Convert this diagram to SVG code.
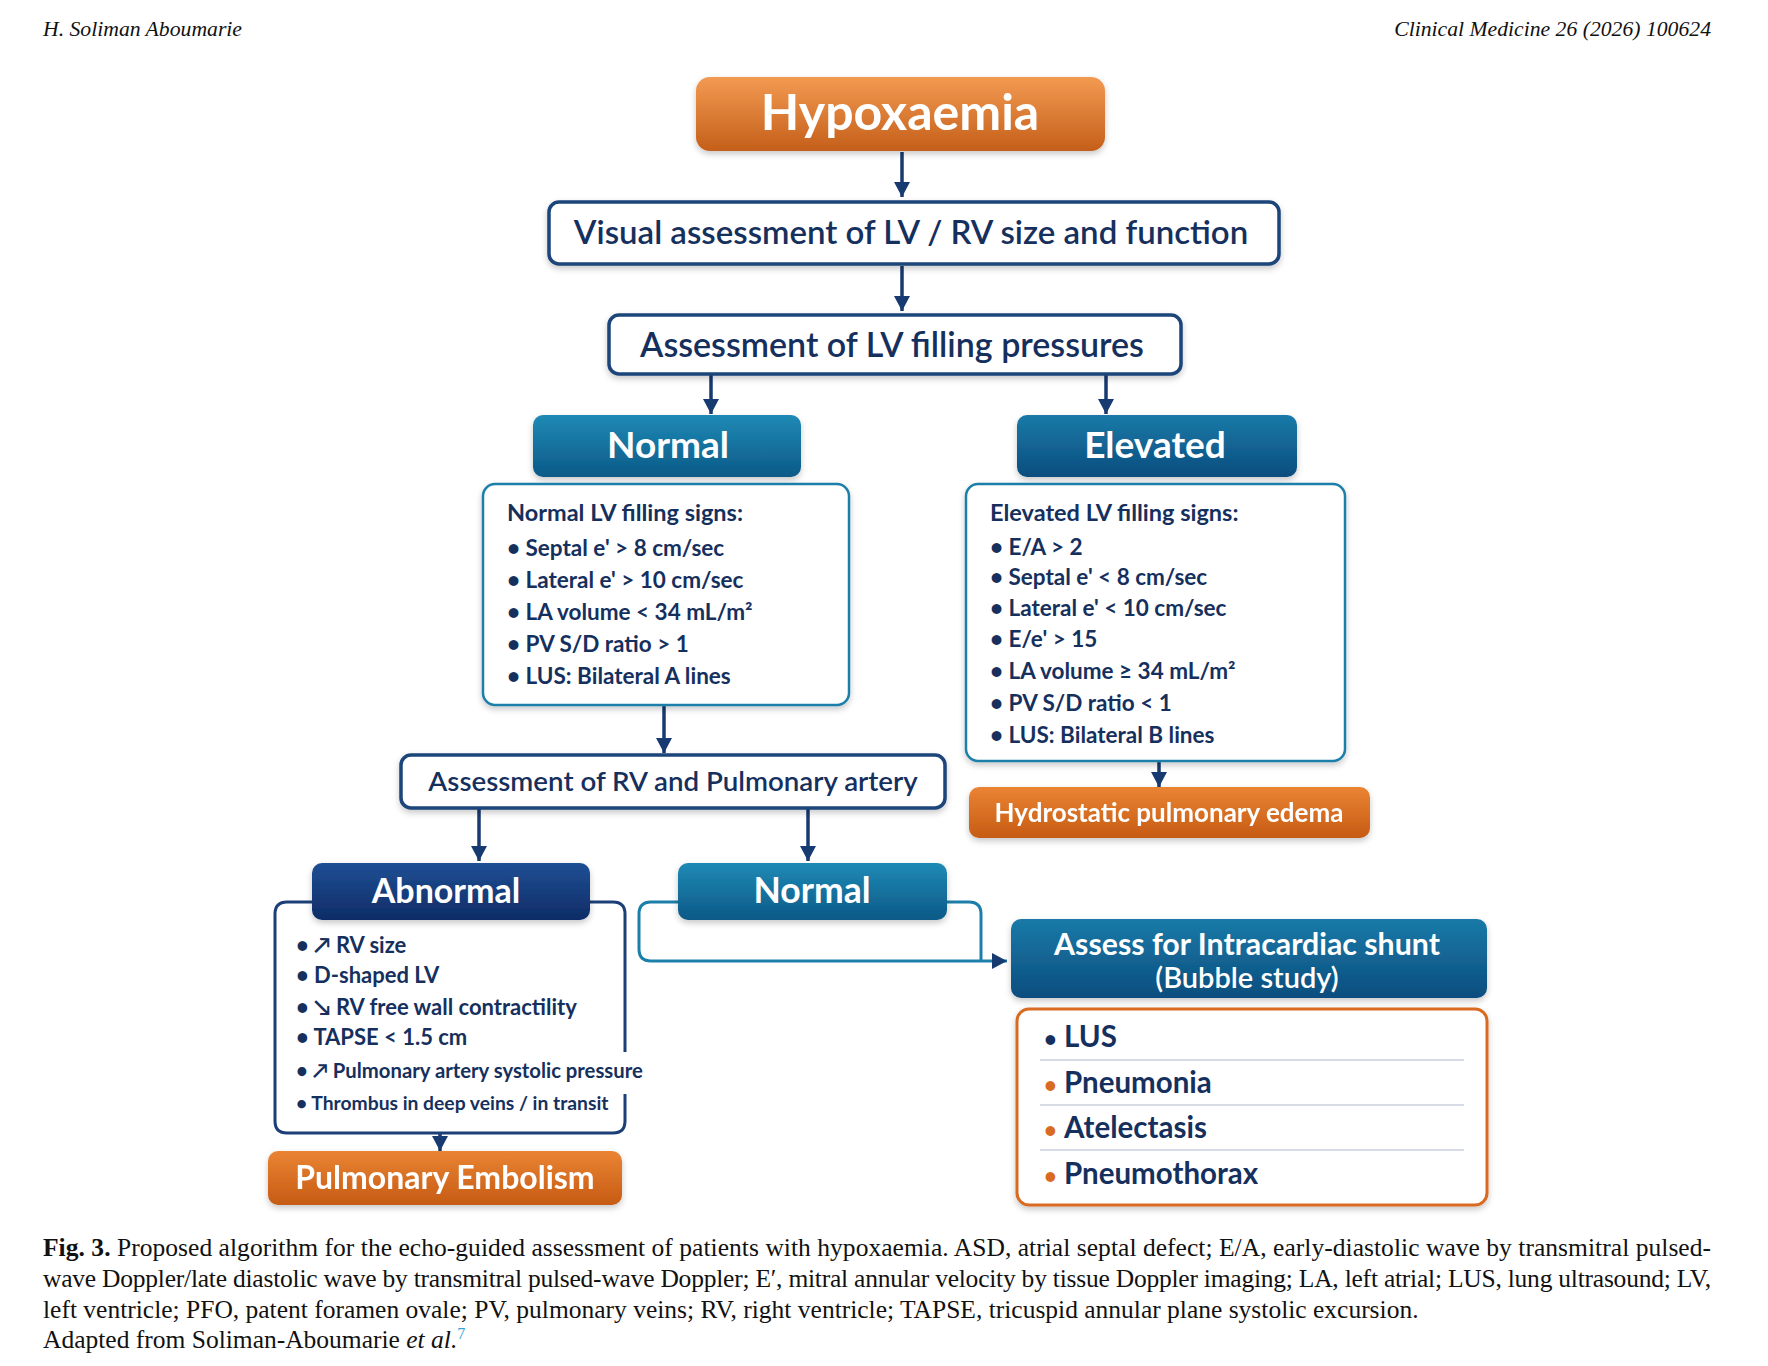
<svg xmlns="http://www.w3.org/2000/svg" width="1768" height="1366" viewBox="0 0 1768 1366">
<defs>
<linearGradient id="gOrange" x1="0" y1="0" x2="0" y2="1"><stop offset="0" stop-color="#f39a52"/><stop offset="1" stop-color="#c45f1a"/></linearGradient>
<linearGradient id="gOrange2" x1="0" y1="0" x2="0" y2="1"><stop offset="0" stop-color="#ea8433"/><stop offset="1" stop-color="#c65b14"/></linearGradient>
<linearGradient id="gTeal" x1="0" y1="0" x2="0" y2="1"><stop offset="0" stop-color="#1f8ab5"/><stop offset="1" stop-color="#0c5987"/></linearGradient>
<linearGradient id="gTeal2" x1="0" y1="0" x2="0" y2="1"><stop offset="0" stop-color="#1a7aa8"/><stop offset="1" stop-color="#0b4d7e"/></linearGradient>
<linearGradient id="gNavy" x1="0" y1="0" x2="0" y2="1"><stop offset="0" stop-color="#1f4f94"/><stop offset="1" stop-color="#0e2c66"/></linearGradient>
<filter id="sh" x="-10%" y="-10%" width="120%" height="130%"><feDropShadow dx="0" dy="3" stdDeviation="3" flood-color="#000" flood-opacity="0.22"/></filter>
<marker id="ah" markerUnits="userSpaceOnUse" markerWidth="16" markerHeight="16" refX="15" refY="8" orient="auto"><path d="M0,0 L15,8 L0,16 z" fill="#173a70"/></marker>
<style>
.hdr{font-family:"Liberation Serif",serif;font-style:italic;font-size:21.7px;fill:#111}
.cap{font-family:"Liberation Serif",serif;font-size:25.5px;fill:#111}
.wbox{fill:#fff;stroke:#1d4479;stroke-width:3.5}
.tbox{fill:#fff;stroke:#1c7fa9;stroke-width:2.5}
.obox{fill:#fff;stroke:#d96a22;stroke-width:3}
.t{font-family:Lato,"Liberation Sans",sans-serif;fill:#16305e}
.w{font-family:Lato,"Liberation Sans",sans-serif;fill:#fff;font-weight:700}
.sig{font-family:Lato,"Liberation Sans",sans-serif;fill:#16305e;font-size:22.5px;font-weight:700}
.ttl{font-size:23.5px}
.ab{font-size:22px}
.ab2{font-size:20.3px}
.ab3{font-size:19.3px}
.conn{fill:none;stroke:#173a70;stroke-width:3.5}
.br{fill:none;stroke-width:3}
.sep{stroke:#d6dbe6;stroke-width:2}
.li{font-family:Lato,"Liberation Sans",sans-serif;font-weight:700;font-size:29.5px}
</style>
</defs>
<rect width="1768" height="1366" fill="#fff"/>
<text class="hdr" x="43" y="36">H. Soliman Aboumarie</text>
<text class="hdr" x="1711" y="36" text-anchor="end">Clinical Medicine 26 (2026) 100624</text>

<g id="connectors">
<path class="conn" d="M902,152 V197" marker-end="url(#ah)"/>
<path class="conn" d="M902,266 V311" marker-end="url(#ah)"/>
<path class="conn" d="M711,375 V414" marker-end="url(#ah)"/>
<path class="conn" d="M1106,375 V414" marker-end="url(#ah)"/>
<path class="conn" d="M664,706 V753" marker-end="url(#ah)"/>
<path class="conn" d="M1159,762 V787" marker-end="url(#ah)"/>
<path class="conn" d="M479,809 V861" marker-end="url(#ah)"/>
<path class="conn" d="M808,809 V861" marker-end="url(#ah)"/>
<path class="conn" d="M440,1134 V1151" marker-end="url(#ah)"/>
<path fill="none" stroke="#1c7fa9" stroke-width="3" d="M981,961 H1007" marker-end="url(#ah)"/>
</g>

<g id="hypoxaemia" filter="url(#sh)">
<rect x="696" y="77" width="409" height="74" rx="14" fill="url(#gOrange)"/>
<text class="w" x="900" y="130" font-size="50" text-anchor="middle">Hypoxaemia</text>
</g>

<g id="visual">
<rect class="wbox" x="549" y="202" width="730" height="62" rx="10" filter="url(#sh)"/>
<text class="t" x="911" y="244" font-size="33" font-weight="600" text-anchor="middle">Visual assessment of LV / RV size and function</text>
</g>

<g id="lvfilling">
<rect class="wbox" x="609" y="315" width="572" height="59" rx="10" filter="url(#sh)"/>
<text class="t" x="892" y="357" font-size="34" font-weight="600" text-anchor="middle">Assessment of LV filling pressures</text>
</g>

<g id="normal1">
<rect x="533" y="415" width="268" height="62" rx="10" fill="url(#gTeal)" filter="url(#sh)"/>
<text class="w" x="668" y="458" font-size="37" text-anchor="middle">Normal</text>
</g>

<g id="elevated">
<rect x="1017" y="415" width="280" height="62" rx="10" fill="url(#gTeal2)" filter="url(#sh)"/>
<text class="w" x="1155" y="458" font-size="37" text-anchor="middle">Elevated</text>
</g>

<g id="normalsigns">
<rect class="tbox" x="483" y="484" width="366" height="221" rx="12" filter="url(#sh)"/>
<text class="sig ttl" x="507" y="521">Normal LV filling signs:</text>
<text class="sig" x="507" y="556">• Septal e' &gt; 8 cm/sec</text>
<text class="sig" x="507" y="588">• Lateral e' &gt; 10 cm/sec</text>
<text class="sig" x="507" y="620">• LA volume &lt; 34 mL/m²</text>
<text class="sig" x="507" y="652">• PV S/D ratio &gt; 1</text>
<text class="sig" x="507" y="684">• LUS: Bilateral A lines</text>
</g>

<g id="elevatedsigns">
<rect class="tbox" x="966" y="484" width="379" height="277" rx="12" filter="url(#sh)"/>
<text class="sig ttl" x="990" y="521">Elevated LV filling signs:</text>
<text class="sig" x="990" y="555">• E/A &gt; 2</text>
<text class="sig" x="990" y="585">• Septal e' &lt; 8 cm/sec</text>
<text class="sig" x="990" y="616">• Lateral e' &lt; 10 cm/sec</text>
<text class="sig" x="990" y="647">• E/e' &gt; 15</text>
<text class="sig" x="990" y="679">• LA volume ≥ 34 mL/m²</text>
<text class="sig" x="990" y="711">• PV S/D ratio &lt; 1</text>
<text class="sig" x="990" y="743">• LUS: Bilateral B lines</text>
</g>

<g id="hydrostatic" filter="url(#sh)">
<rect x="969" y="787" width="401" height="51" rx="10" fill="url(#gOrange2)"/>
<text class="w" x="1169" y="822" font-size="26" text-anchor="middle">Hydrostatic pulmonary edema</text>
</g>

<g id="rvpa">
<rect class="wbox" x="401" y="755" width="544" height="53" rx="10" filter="url(#sh)"/>
<text class="t" x="673" y="791" font-size="27.7" font-weight="600" text-anchor="middle">Assessment of RV and Pulmonary artery</text>
</g>

<g id="abnormal">
<path class="br" stroke="#1d3f78" d="M312,902 H287 Q275,902 275,914 V1121 Q275,1133 287,1133 H613 Q625,1133 625,1121 V1094 M625,1052 V914 Q625,902 613,902 H590"/>
<rect x="312" y="863" width="278" height="57" rx="10" fill="url(#gNavy)" filter="url(#sh)"/>
<text class="w" x="446" y="903" font-size="34" text-anchor="middle">Abnormal</text>
<text class="sig ab" x="296" y="953">• ↗ RV size</text>
<text class="sig ab" x="296" y="983">• D-shaped LV</text>
<text class="sig ab" x="296" y="1015">• ↘ RV free wall contractility</text>
<text class="sig ab" x="296" y="1045">• TAPSE &lt; 1.5 cm</text>
<text class="sig ab2" x="296" y="1078">• ↗ Pulmonary artery systolic pressure</text>
<text class="sig ab3" x="296" y="1110">• Thrombus in deep veins / in transit</text>
</g>

<g id="pe" filter="url(#sh)">
<rect x="268" y="1151" width="354" height="54" rx="10" fill="url(#gOrange2)"/>
<text class="w" x="445" y="1189" font-size="32" text-anchor="middle">Pulmonary Embolism</text>
</g>

<g id="normal2">
<path class="br" stroke="#1c7fa9" d="M678,902 H651 Q639,902 639,914 V949 Q639,961 651,961 H981 M947,902 H969 Q981,902 981,914 V961"/>
<rect x="678" y="863" width="269" height="57" rx="10" fill="url(#gTeal)" filter="url(#sh)"/>
<text class="w" x="812" y="903" font-size="35.5" text-anchor="middle">Normal</text>
</g>

<g id="shunt">
<rect x="1011" y="919" width="476" height="79" rx="10" fill="url(#gTeal2)" filter="url(#sh)"/>
<text class="w" x="1247" y="955" font-size="30.3" text-anchor="middle">Assess for Intracardiac shunt</text>
<text x="1247" y="988" font-size="29" text-anchor="middle" font-family="Lato,'Liberation Sans',sans-serif" fill="#fff" font-weight="600">(Bubble study)</text>
</g>

<g id="lunglist">
<rect class="obox" x="1017" y="1009" width="470" height="196" rx="12" filter="url(#sh)"/>
<line class="sep" x1="1040" y1="1060" x2="1464" y2="1060"/>
<line class="sep" x1="1040" y1="1105" x2="1464" y2="1105"/>
<line class="sep" x1="1040" y1="1150" x2="1464" y2="1150"/>
<text class="li" x="1044" y="1047"><tspan fill="#16305e" font-size="22">•</tspan><tspan fill="#16305e" x="1064">LUS</tspan></text>
<text class="li" x="1044" y="1093"><tspan fill="#d96a22" font-size="22">•</tspan><tspan fill="#16305e" x="1064">Pneumonia</tspan></text>
<text class="li" x="1044" y="1138"><tspan fill="#d96a22" font-size="22">•</tspan><tspan fill="#16305e" x="1064">Atelectasis</tspan></text>
<text class="li" x="1044" y="1184"><tspan fill="#d96a22" font-size="22">•</tspan><tspan fill="#16305e" x="1064">Pneumothorax</tspan></text>
</g>

<g id="caption">
<text class="cap" x="43" y="1256" textLength="1668" lengthAdjust="spacing"><tspan font-weight="700">Fig. 3.</tspan>  Proposed algorithm for the echo-guided assessment of patients with hypoxaemia. ASD, atrial septal defect; E/A, early-diastolic wave by transmitral pulsed-</text>
<text class="cap" x="43" y="1287" textLength="1668" lengthAdjust="spacing">wave Doppler/late diastolic wave by transmitral pulsed-wave Doppler; E′, mitral annular velocity by tissue Doppler imaging; LA, left atrial; LUS, lung ultrasound; LV,</text>
<text class="cap" x="43" y="1318">left ventricle; PFO, patent foramen ovale; PV, pulmonary veins; RV, right ventricle; TAPSE, tricuspid annular plane systolic excursion.</text>
<text class="cap" x="43" y="1348">Adapted from Soliman-Aboumarie <tspan font-style="italic">et al.</tspan><tspan fill="#3aa0d8" font-size="16" dy="-9">7</tspan></text>
</g>
</svg>
